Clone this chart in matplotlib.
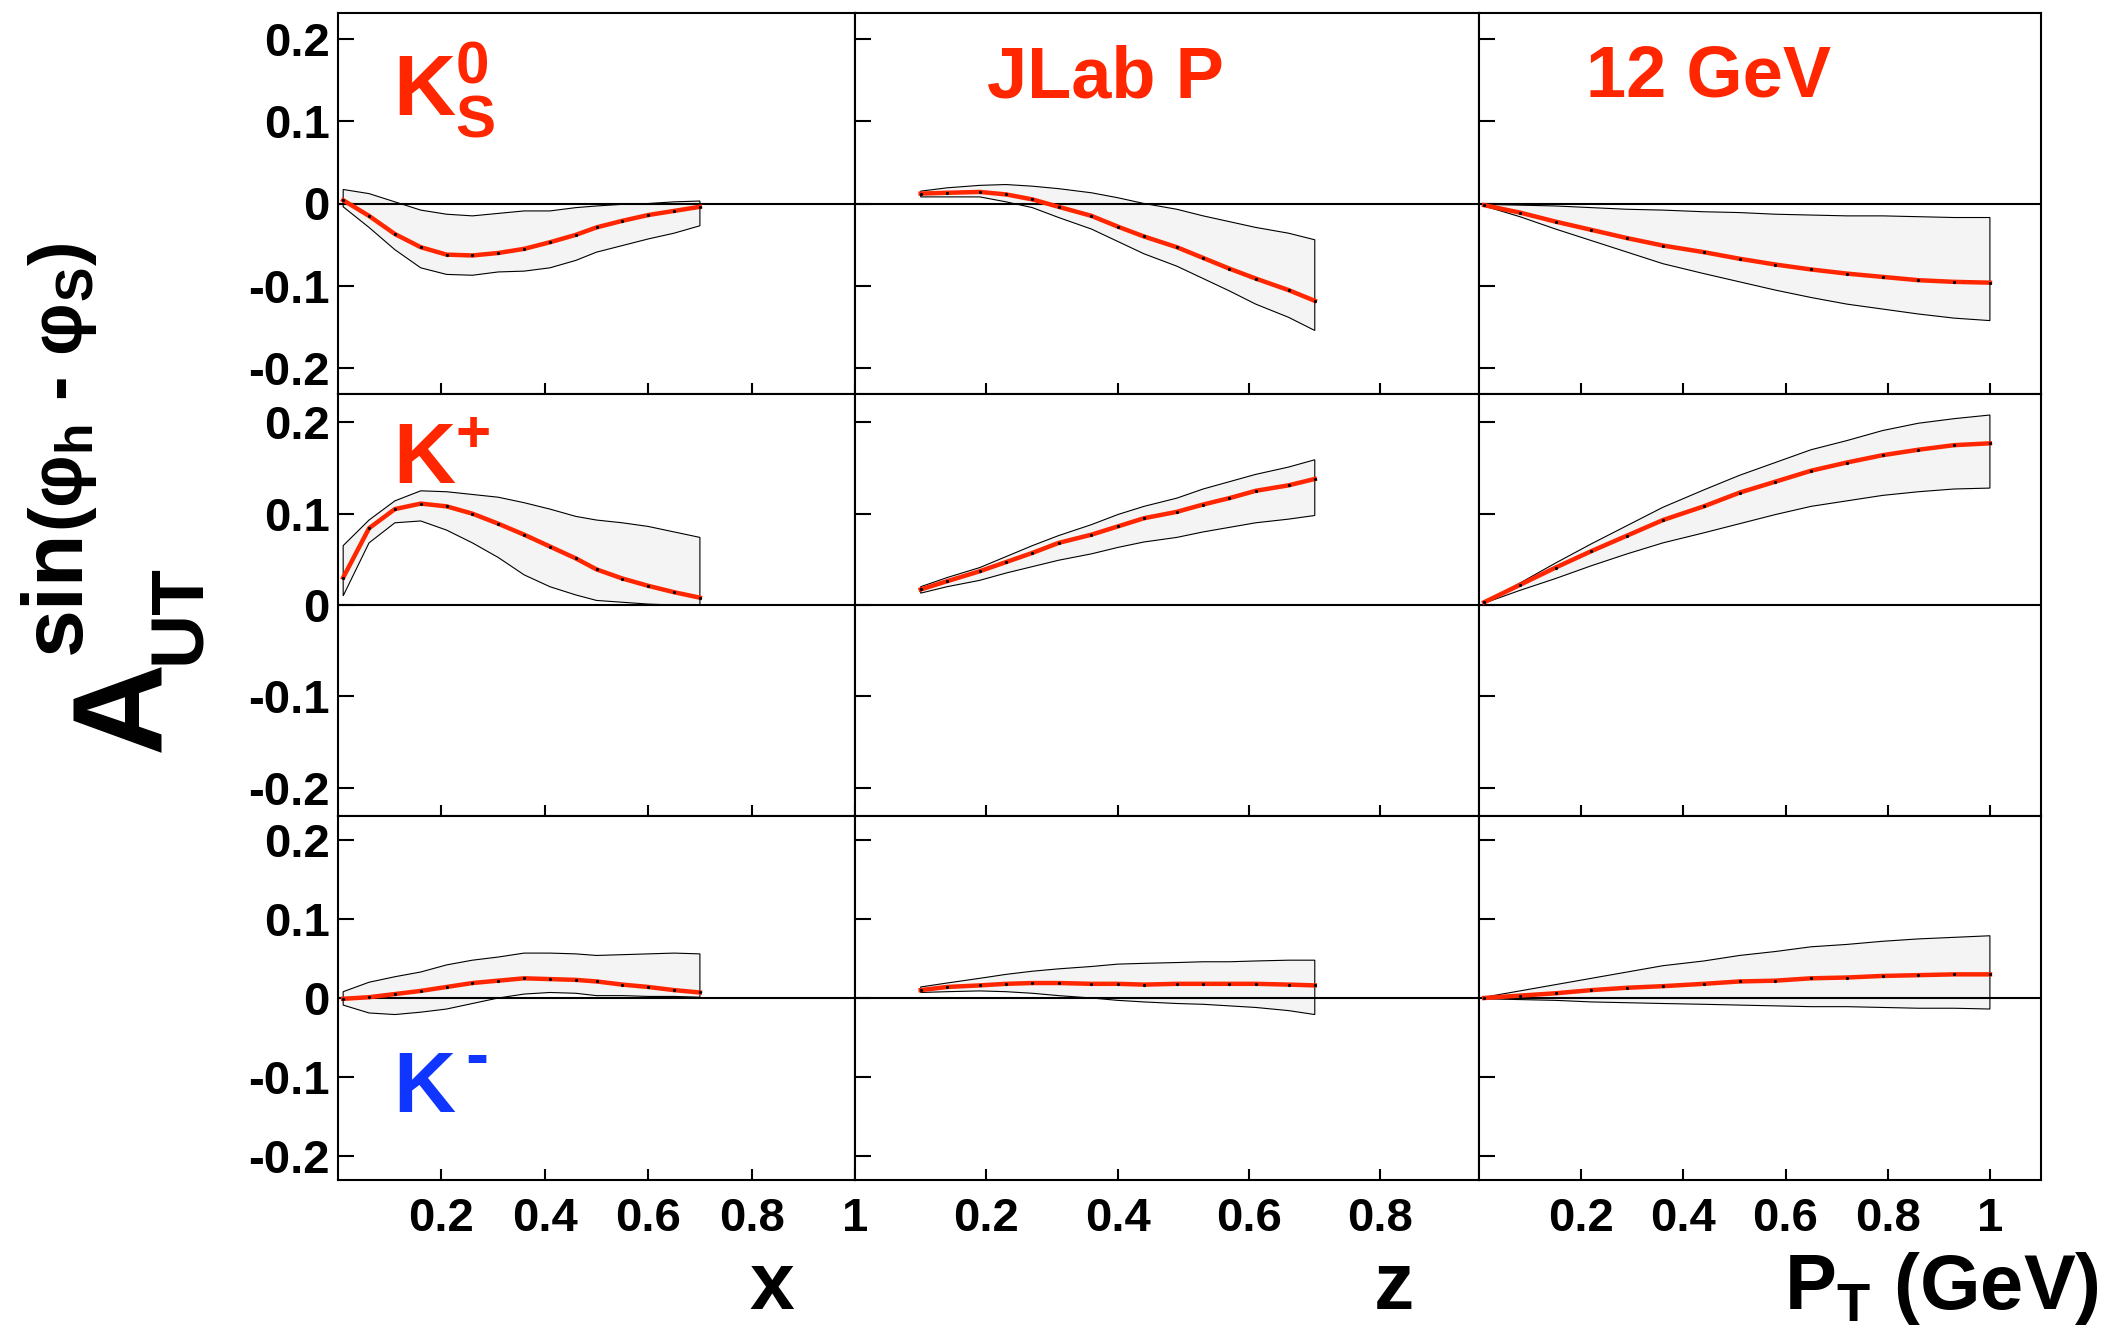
"""
Kaon Sivers-type asymmetry A_UT^sin(phi_h - phi_S), JLab 12 GeV projections
"""

import matplotlib
matplotlib.use('Agg')
import matplotlib.pyplot as plt

plt.rcParams['font.family'] = ['Liberation Sans', 'DejaVu Sans']
plt.rcParams['font.weight'] = 'bold'
plt.rcParams['mathtext.fontset'] = 'custom'
plt.rcParams['mathtext.rm'] = 'Liberation Sans:bold'
plt.rcParams['mathtext.it'] = 'Liberation Sans:bold'
plt.rcParams['mathtext.bf'] = 'Liberation Sans:bold'
plt.rcParams['mathtext.sf'] = 'Liberation Sans:bold'

# kinematic points for each column
x_pts = [0.01, 0.06, 0.11, 0.16, 0.21, 0.26, 0.31, 0.36, 0.41, 0.46, 0.50, 0.55, 0.60, 0.65, 0.70]
z_pts = [0.10, 0.14, 0.19, 0.23, 0.27, 0.31, 0.36, 0.40, 0.44, 0.49, 0.53, 0.57, 0.61, 0.66, 0.70]
pt_pts = [0.01, 0.08, 0.15, 0.22, 0.29, 0.36, 0.44, 0.51, 0.58, 0.65, 0.72, 0.79, 0.86, 0.93, 1.00]

# K0_S
k0_x = [0.004, -0.015, -0.037, -0.053, -0.062, -0.063, -0.060, -0.055, -0.047, -0.038, -0.029, -0.021, -0.014, -0.009, -0.004]
k0_x_hi = [0.017, 0.012, 0.002, -0.008, -0.013, -0.015, -0.012, -0.009, -0.009, -0.005, -0.003, -0.001, 0.000, 0.002, 0.003]
k0_x_lo = [-0.004, -0.029, -0.056, -0.078, -0.086, -0.087, -0.083, -0.082, -0.078, -0.069, -0.059, -0.051, -0.043, -0.036, -0.027]
k0_z = [0.012, 0.013, 0.014, 0.011, 0.005, -0.004, -0.015, -0.028, -0.040, -0.053, -0.066, -0.079, -0.091, -0.105, -0.118]
k0_z_hi = [0.015, 0.019, 0.022, 0.023, 0.021, 0.018, 0.013, 0.007, 0.000, -0.007, -0.015, -0.022, -0.029, -0.036, -0.044]
k0_z_lo = [0.008, 0.008, 0.008, 0.002, -0.005, -0.017, -0.031, -0.046, -0.061, -0.076, -0.091, -0.106, -0.122, -0.138, -0.154]
k0_pt = [-0.002, -0.011, -0.022, -0.032, -0.042, -0.051, -0.059, -0.067, -0.074, -0.080, -0.085, -0.089, -0.093, -0.095, -0.096]
k0_pt_hi = [-0.001, -0.002, -0.003, -0.005, -0.007, -0.008, -0.010, -0.011, -0.013, -0.014, -0.015, -0.015, -0.016, -0.017, -0.017]
k0_pt_lo = [-0.003, -0.016, -0.031, -0.045, -0.059, -0.073, -0.085, -0.095, -0.105, -0.114, -0.122, -0.128, -0.134, -0.139, -0.142]

# K+
kp_x = [0.030, 0.084, 0.105, 0.111, 0.108, 0.100, 0.089, 0.077, 0.064, 0.051, 0.039, 0.029, 0.021, 0.014, 0.008]
kp_x_hi = [0.065, 0.093, 0.114, 0.125, 0.124, 0.121, 0.118, 0.112, 0.105, 0.097, 0.093, 0.090, 0.086, 0.080, 0.074]
kp_x_lo = [0.010, 0.068, 0.090, 0.092, 0.082, 0.068, 0.052, 0.033, 0.020, 0.011, 0.005, 0.003, 0.001, 0.000, 0.000]
kp_z = [0.017, 0.026, 0.037, 0.047, 0.057, 0.068, 0.077, 0.086, 0.095, 0.102, 0.110, 0.117, 0.125, 0.131, 0.138]
kp_z_hi = [0.020, 0.030, 0.041, 0.053, 0.065, 0.076, 0.088, 0.099, 0.108, 0.117, 0.127, 0.135, 0.143, 0.151, 0.159]
kp_z_lo = [0.013, 0.020, 0.027, 0.035, 0.042, 0.049, 0.056, 0.063, 0.069, 0.074, 0.080, 0.085, 0.090, 0.094, 0.098]
kp_pt = [0.003, 0.022, 0.041, 0.059, 0.076, 0.093, 0.108, 0.123, 0.135, 0.147, 0.156, 0.164, 0.170, 0.175, 0.177]
kp_pt_hi = [0.003, 0.024, 0.046, 0.067, 0.087, 0.107, 0.126, 0.142, 0.156, 0.170, 0.180, 0.191, 0.199, 0.204, 0.208]
kp_pt_lo = [0.002, 0.016, 0.029, 0.043, 0.056, 0.068, 0.079, 0.089, 0.099, 0.108, 0.114, 0.120, 0.124, 0.127, 0.128]

# K-
km_x = [-0.001, 0.001, 0.005, 0.009, 0.014, 0.019, 0.022, 0.025, 0.024, 0.023, 0.021, 0.017, 0.014, 0.010, 0.007]
km_x_hi = [0.008, 0.020, 0.027, 0.033, 0.042, 0.048, 0.052, 0.057, 0.057, 0.056, 0.054, 0.055, 0.056, 0.057, 0.056]
km_x_lo = [-0.009, -0.019, -0.021, -0.018, -0.014, -0.007, 0.000, 0.005, 0.007, 0.006, 0.003, 0.003, 0.002, 0.002, 0.001]
km_z = [0.010, 0.014, 0.016, 0.018, 0.019, 0.019, 0.018, 0.018, 0.017, 0.018, 0.018, 0.018, 0.018, 0.017, 0.016]
km_z_hi = [0.014, 0.019, 0.025, 0.030, 0.034, 0.037, 0.040, 0.043, 0.044, 0.045, 0.046, 0.046, 0.047, 0.048, 0.048]
km_z_lo = [0.007, 0.008, 0.009, 0.008, 0.006, 0.003, 0.000, -0.003, -0.005, -0.007, -0.008, -0.010, -0.012, -0.016, -0.021]
km_pt = [0.000, 0.003, 0.006, 0.010, 0.013, 0.015, 0.018, 0.021, 0.022, 0.025, 0.026, 0.028, 0.029, 0.030, 0.030]
km_pt_hi = [0.001, 0.009, 0.017, 0.025, 0.033, 0.041, 0.047, 0.054, 0.059, 0.065, 0.068, 0.072, 0.075, 0.077, 0.079]
km_pt_lo = [-0.001, -0.002, -0.003, -0.005, -0.006, -0.007, -0.008, -0.009, -0.010, -0.011, -0.011, -0.012, -0.013, -0.013, -0.014]

col_x = [x_pts, z_pts, pt_pts]
panels = [
    [(k0_x, k0_x_hi, k0_x_lo), (k0_z, k0_z_hi, k0_z_lo), (k0_pt, k0_pt_hi, k0_pt_lo)],
    [(kp_x, kp_x_hi, kp_x_lo), (kp_z, kp_z_hi, kp_z_lo), (kp_pt, kp_pt_hi, kp_pt_lo)],
    [(km_x, km_x_hi, km_x_lo), (km_z, km_z_hi, km_z_lo), (km_pt, km_pt_hi, km_pt_lo)],
]

y_ticks = [-0.2, -0.1, 0, 0.1, 0.2]
y_labels = ['-0.2', '-0.1', '0', '0.1', '0.2']
x_ticks = [[0.2, 0.4, 0.6, 0.8, 1.0], [0.2, 0.4, 0.6, 0.8], [0.2, 0.4, 0.6, 0.8, 1.0]]
x_labels = [['0.2', '0.4', '0.6', '0.8', '1'], ['0.2', '0.4', '0.6', '0.8'], ['0.2', '0.4', '0.6', '0.8', '1']]
x_lims = [(0, 1.0), (0, 0.95), (0, 1.1)]

red = '#ff2600'
blue = '#0f35ff'

W, H = 2112, 1330
fig = plt.figure(figsize=(W / 100, H / 100), dpi=100)

# pad edges in pixels
col_px = [(338, 855), (855, 1479), (1479, 2041)]
row_px = [(13, 394), (394, 816), (816, 1180)]

axes = {}
for r in range(3):
    for c in range(3):
        x0, x1 = col_px[c]
        y0, y1 = row_px[r]
        ax = fig.add_axes([x0 / W, 1 - y1 / H, (x1 - x0) / W, (y1 - y0) / H])
        xs = col_x[c]
        mid, hi, lo = panels[r][c]
        ax.fill(xs + xs[::-1], hi + lo[::-1], facecolor='#f4f4f4', edgecolor='black', lw=0.8, zorder=1)
        ax.axhline(0, color='black', lw=1.5, zorder=2)
        ax.plot(xs, mid, color=red, lw=3.2, zorder=3)
        ax.plot(xs, mid, 'o', color='black', ms=1.3, zorder=4)
        ax.set_xlim(x_lims[c])
        ax.set_ylim(-0.231, 0.231)
        ax.set_xticks(x_ticks[c])
        ax.set_yticks(y_ticks)
        for s in ax.spines.values():
            s.set_linewidth(1.5)
        ax.tick_params(direction='in', width=1.5, labelsize=34)
        ax.tick_params(axis='y', length=11.5, pad=6)
        ax.tick_params(axis='x', length=8, pad=12)
        if c == 0:
            ax.set_yticklabels(y_labels)
        else:
            ax.tick_params(labelleft=False)
        if r == 2:
            ax.set_xticklabels(x_labels[c])
        else:
            ax.tick_params(labelbottom=False)
        axes[(r, c)] = ax

# panel labels
axes[(0, 0)].text(0.106, 0.732, r'K$^{\mathrm{0}}_{\mathrm{S}}$', color=red, fontsize=62,
                  transform=axes[(0, 0)].transAxes, va='baseline')
axes[(0, 1)].text(0.2115, 0.777, 'JLab P', color=red, fontsize=52,
                  transform=axes[(0, 1)].transAxes, va='baseline')
axes[(0, 2)].text(0.19, 0.78, '12 GeV', color=red, fontsize=52,
                  transform=axes[(0, 2)].transAxes, va='baseline')
axes[(1, 0)].text(0.106, 0.787, r'K$^{\mathrm{+}}$', color=red, fontsize=62,
                  transform=axes[(1, 0)].transAxes, va='baseline')
axes[(2, 0)].text(0.106, 0.187, 'K', color=blue, fontsize=62,
                  transform=axes[(2, 0)].transAxes, va='baseline')
# short dash as the K- charge
axes[(2, 0)].text(0.246, 0.283, '-', color=blue, fontsize=50,
                  transform=axes[(2, 0)].transAxes, va='baseline')

# axis titles
fig.text(772 / W, 1 - 1309 / H, 'x', fontsize=58, ha='center', va='baseline')
fig.text(1394 / W, 1 - 1309 / H, 'z', fontsize=58, ha='center', va='baseline')
fig.text(2099 / W, 1 - 1309 / H, r'P$_{\mathrm{T}}$ (GeV)', fontsize=56, ha='right', va='baseline')

# y title built from pieces
rot = dict(rotation=90, rotation_mode='anchor', ha='left', va='baseline')
fig.text(160 / W, 1 - 752 / H, 'A', fontsize=92, **rot)
fig.text(200 / W, 1 - 664 / H, 'UT', fontsize=54, **rot)
fig.text(80 / W, 1 - 654 / H, 'sin', fontsize=62, **rot)
fig.text(82 / W, 1 - 532 / H, '(\u03c6$_{\\mathrm{h}}$ - \u03c6$_{\\mathrm{S}}$)', fontsize=53, **rot)

fig.savefig('out.png', dpi=100)
